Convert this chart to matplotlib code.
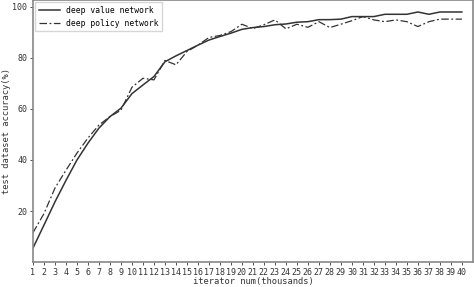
import matplotlib.pyplot as plt
import numpy as np

iters = np.arange(1, 41)
value_net = [5.5, 14.5, 23.6, 32, 40, 46.6, 52.5, 57, 60.3, 66,
             69.4, 72.7, 78.5, 80.8, 82.9, 85, 87, 88.4, 89.7, 91.2,
             91.9, 92.3, 93, 93.3, 94, 94.2, 95, 95, 95.2, 96.2,
             96.2, 96.2, 97.1, 97.1, 97.1, 98, 97.1, 98, 98, 98]
policy_net = [11.5, 19, 29, 36, 42.7, 48.6, 53.7, 57, 59.5, 68.5,
              72, 71.4, 79, 77.3, 82.5, 85, 88, 88.8, 90.3, 93.2,
              91.5, 93, 94.9, 91.4, 93.2, 92, 94.2, 91.9, 93.2, 94.6,
              96.2, 94.9, 94.2, 94.9, 94.2, 92.3, 94.2, 95.2, 95.2, 95.2]

plt.rcParams['font.family'] = 'DejaVu Sans Mono'
plt.rcParams['font.size'] = 6

fig = plt.figure(figsize=(4.74, 2.87), dpi=100)
ax = fig.add_axes([0.0696, 0.087, 0.928, 0.913])

ax.plot(iters, value_net, color='#333333', lw=1.1, ls='-', label='deep value network')
ax.plot(iters, policy_net, color='#333333', lw=0.9, dashes=(6, 2, 1.5, 2),
        label='deep policy network')

ax.set_xlim(1, 41)
ax.set_ylim(0, 102.7)
ax.set_xticks(iters)
ax.set_yticks([20, 40, 60, 80, 100])
ax.tick_params(length=2.5, width=0.6, pad=1.5, colors='#333333')
for s in ax.spines.values():
    s.set_color('#888888')
    s.set_linewidth(1.2)

ax.set_xlabel('iterator num(thousands)', fontsize=6.3, color='#333333', labelpad=0.5)
ax.set_ylabel('test dataset accuracy(%)', fontsize=6.3, color='#333333')
ax.yaxis.set_label_coords(-0.05, 0.5)
ax.legend(loc='upper left', fontsize=5.8, frameon=True, fancybox=False,
          edgecolor='#cccccc', borderaxespad=0.3, handlelength=2.6)

fig.savefig('out.png', dpi=100)
